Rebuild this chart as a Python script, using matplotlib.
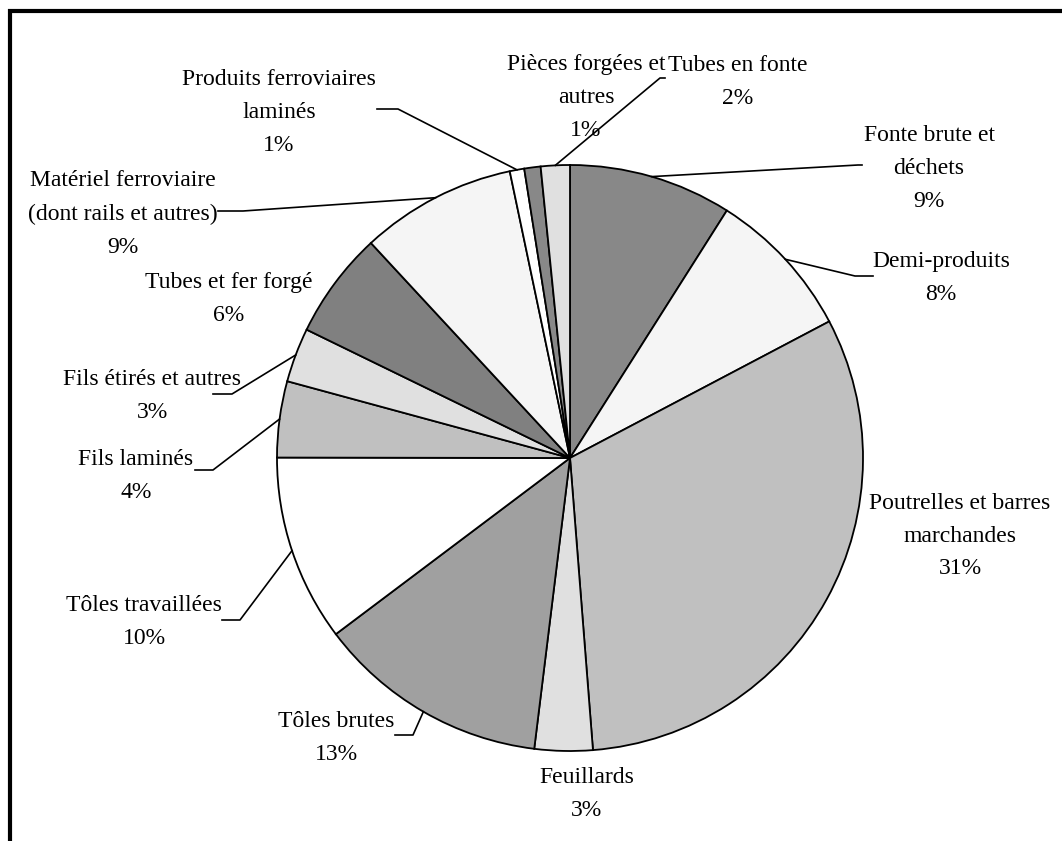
import numpy as np
import matplotlib.pyplot as plt

# figure size in pixels
W, H = 1062, 841

# --- data --------------------------------------------------------------
labels = ['Fonte brute et\ndéchets', 'Demi-produits',
          'Poutrelles et barres\nmarchandes', 'Feuillards', 'Tôles brutes',
          'Tôles travaillées', 'Fils laminés', 'Fils étirés et autres',
          'Tubes et fer forgé',
          'Matériel ferroviaire\n(dont rails et autres)',
          'Produits ferroviaires\nlaminés', 'Pièces forgées et\nautres',
          'Tubes en fonte']
shares = [9.0, 8.3, 31.5, 3.2, 12.8, 10.3, 4.2, 3.0, 5.9, 8.6, 0.8, 0.9, 1.6]
pct_text = ['9%', '8%', '31%', '3%', '13%', '10%', '4%', '3%', '6%', '9%',
            '1%', '1%', '2%']
colors = ['#888888', '#f5f5f5', '#c0c0c0', '#e0e0e0', '#a0a0a0', '#ffffff',
          '#c0c0c0', '#e0e0e0', '#808080', '#f5f5f5', '#ffffff', '#888888',
          '#e0e0e0']

# label centres (pixels, from top-left) and leader elbows / ends
label_pos = [(929, 168), (941, 278), (960, 536), (587, 794), (336, 738),
             (144, 622), (136, 476), (152, 396), (229, 299), (123, 214),
             (279, 112), (586, 97), (738, 82)]
leaders = {0: [(858, 165), (862, 165)],
           1: [(855, 276), (873, 276)],
           4: [(413, 735), (395, 735)],
           5: [(240, 620), (222, 620)],
           6: [(213, 470), (195, 470)],
           7: [(232, 394), (213, 394)],
           9: [(243, 211), (218, 211)],
           10: [(398, 109), (377, 109)],
           12: [(660, 78), (665, 78)]}

cx, cy, r = 570, 458, 293

fig = plt.figure(figsize=(W / 100, H / 100), dpi=100)
ax = fig.add_axes([0, 0, 1, 1])

wedges, _ = ax.pie(shares, colors=colors, startangle=90, counterclock=False,
                   center=(cx, H - cy), radius=r,
                   wedgeprops=dict(edgecolor='black', linewidth=1.3))
ax.set_xlim(0, W)
ax.set_ylim(0, H)
ax.set_aspect('equal')
ax.axis('off')

font = dict(family='Liberation Serif', fontsize=17)
for i, (lab, pct) in enumerate(zip(labels, pct_text)):
    x, y = label_pos[i]
    ax.text(x, H - y, lab + '\n' + pct, ha='center', va='center',
            multialignment='center', linespacing=1.75, **font)
    if i in leaders:
        w = wedges[i]
        th = np.deg2rad((w.theta1 + w.theta2) / 2)
        pts = [(cx + r * np.cos(th), H - cy + r * np.sin(th))]
        pts += [(px, H - py) for px, py in leaders[i]]
        xs, ys = zip(*pts)
        ax.plot(xs, ys, color='black', lw=1.2)

# frame (top and left edges only visible)
ax.plot([8, W], [H - 11, H - 11], color='black', lw=3, solid_capstyle='butt')
ax.plot([10, 10], [0, H - 9], color='black', lw=3, solid_capstyle='butt')

fig.savefig('out.png', dpi=100, facecolor='white')
